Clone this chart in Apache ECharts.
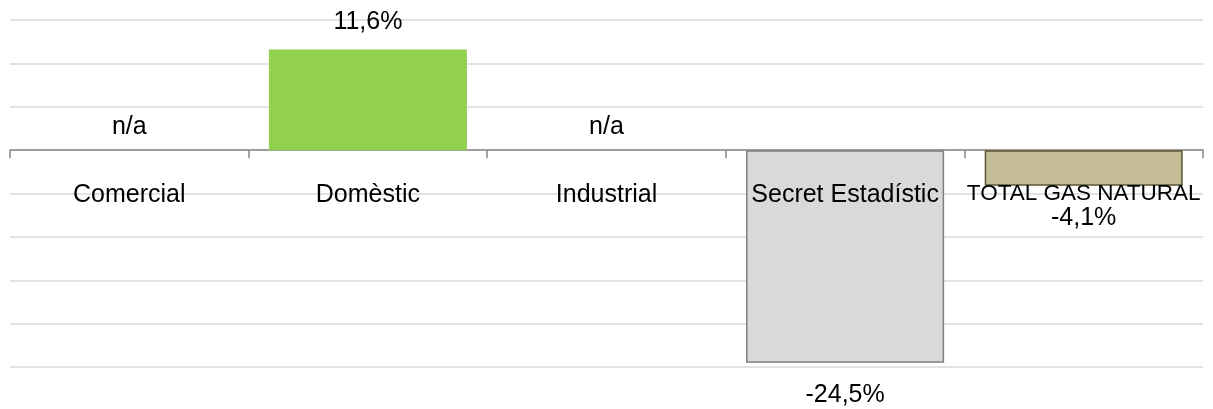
<!DOCTYPE html>
<html>
<head>
<meta charset="utf-8">
<script src="https://cdn.jsdelivr.net/npm/echarts@6/dist/echarts.min.js"></script>
<style>html,body{margin:0;padding:0;background:#fff}#c{width:1213px;height:409px}</style>
</head>
<body>
<div id="c"></div>
<script>
const categories = ['Comercial', 'Domèstic', 'Industrial', 'Secret Estadístic', 'TOTAL GAS NATURAL'];
const values = [null, 11.6, null, -24.5, -4.1];
const barColors = ['#92D050', '#92D050', '#92D050', '#D9D9D9', '#C4BD97'];
const borderColors = ['#92D050', '#92D050', '#92D050', '#7F7F7F', '#5C5633'];
const naLabel = 'n/a';

const FONT = 'Liberation Sans';
const FS = 25;
const data = values.map((v, i) => {
  if (v === null) {
    return { value: 0, na: true, itemStyle: { color: 'rgba(0,0,0,0)', borderWidth: 0 },
      label: { position: 'top', distance: 11 } };
  }
  return {
    value: v,
    itemStyle: { color: barColors[i], borderColor: borderColors[i], borderWidth: i >= 3 ? 1.5 : 0 },
    label: { position: v >= 0 ? 'top' : 'bottom', distance: v >= 0 ? 15 : 20 }
  };
});

const catLabelData = categories.map((c, i) => ({
  value: [c, 0],
  label: { fontSize: i === categories.length - 1 ? 22.5 : FS }
}));

const chart = echarts.init(document.getElementById('c'), null, { renderer: 'canvas' });
chart.setOption({
  animation: false,
  backgroundColor: '#fff',
  grid: { left: 10, right: 10, top: 20, bottom: 42, containLabel: false, outerBoundsMode: 'none' },
  xAxis: {
    type: 'category',
    data: categories,
    axisLine: { onZero: true, lineStyle: { color: '#868686', width: 1.5 } },
    axisTick: { show: true, length: 8, lineStyle: { color: '#868686', width: 1.5 } },
    axisLabel: { show: false },
    splitLine: { show: false }
  },
  yAxis: {
    type: 'value',
    min: -25, max: 15, interval: 5,
    axisLabel: { show: false },
    axisLine: { show: false },
    axisTick: { show: false },
    splitLine: { lineStyle: { color: '#D9D9D9', width: 1.5 } }
  },
  series: [{
    type: 'bar',
    data: data,
    barCategoryGap: '17%',
    z: 2,
    label: {
      show: true,
      color: '#000',
      fontFamily: FONT,
      fontSize: FS,
      formatter: p => p.data.na ? naLabel : p.value.toFixed(1).replace('.', ',') + '%'
    }
  }, {
    type: 'scatter',
    data: catLabelData,
    symbolSize: 0,
    silent: true,
    z: 3,
    itemStyle: { opacity: 1 },
    label: {
      show: true,
      position: 'bottom',
      distance: 32,
      color: '#000',
      opacity: 1,
      textBorderWidth: 0,
      fontFamily: FONT,
      formatter: p => p.value[0]
    }
  }]
});
</script>
</body>
</html>
